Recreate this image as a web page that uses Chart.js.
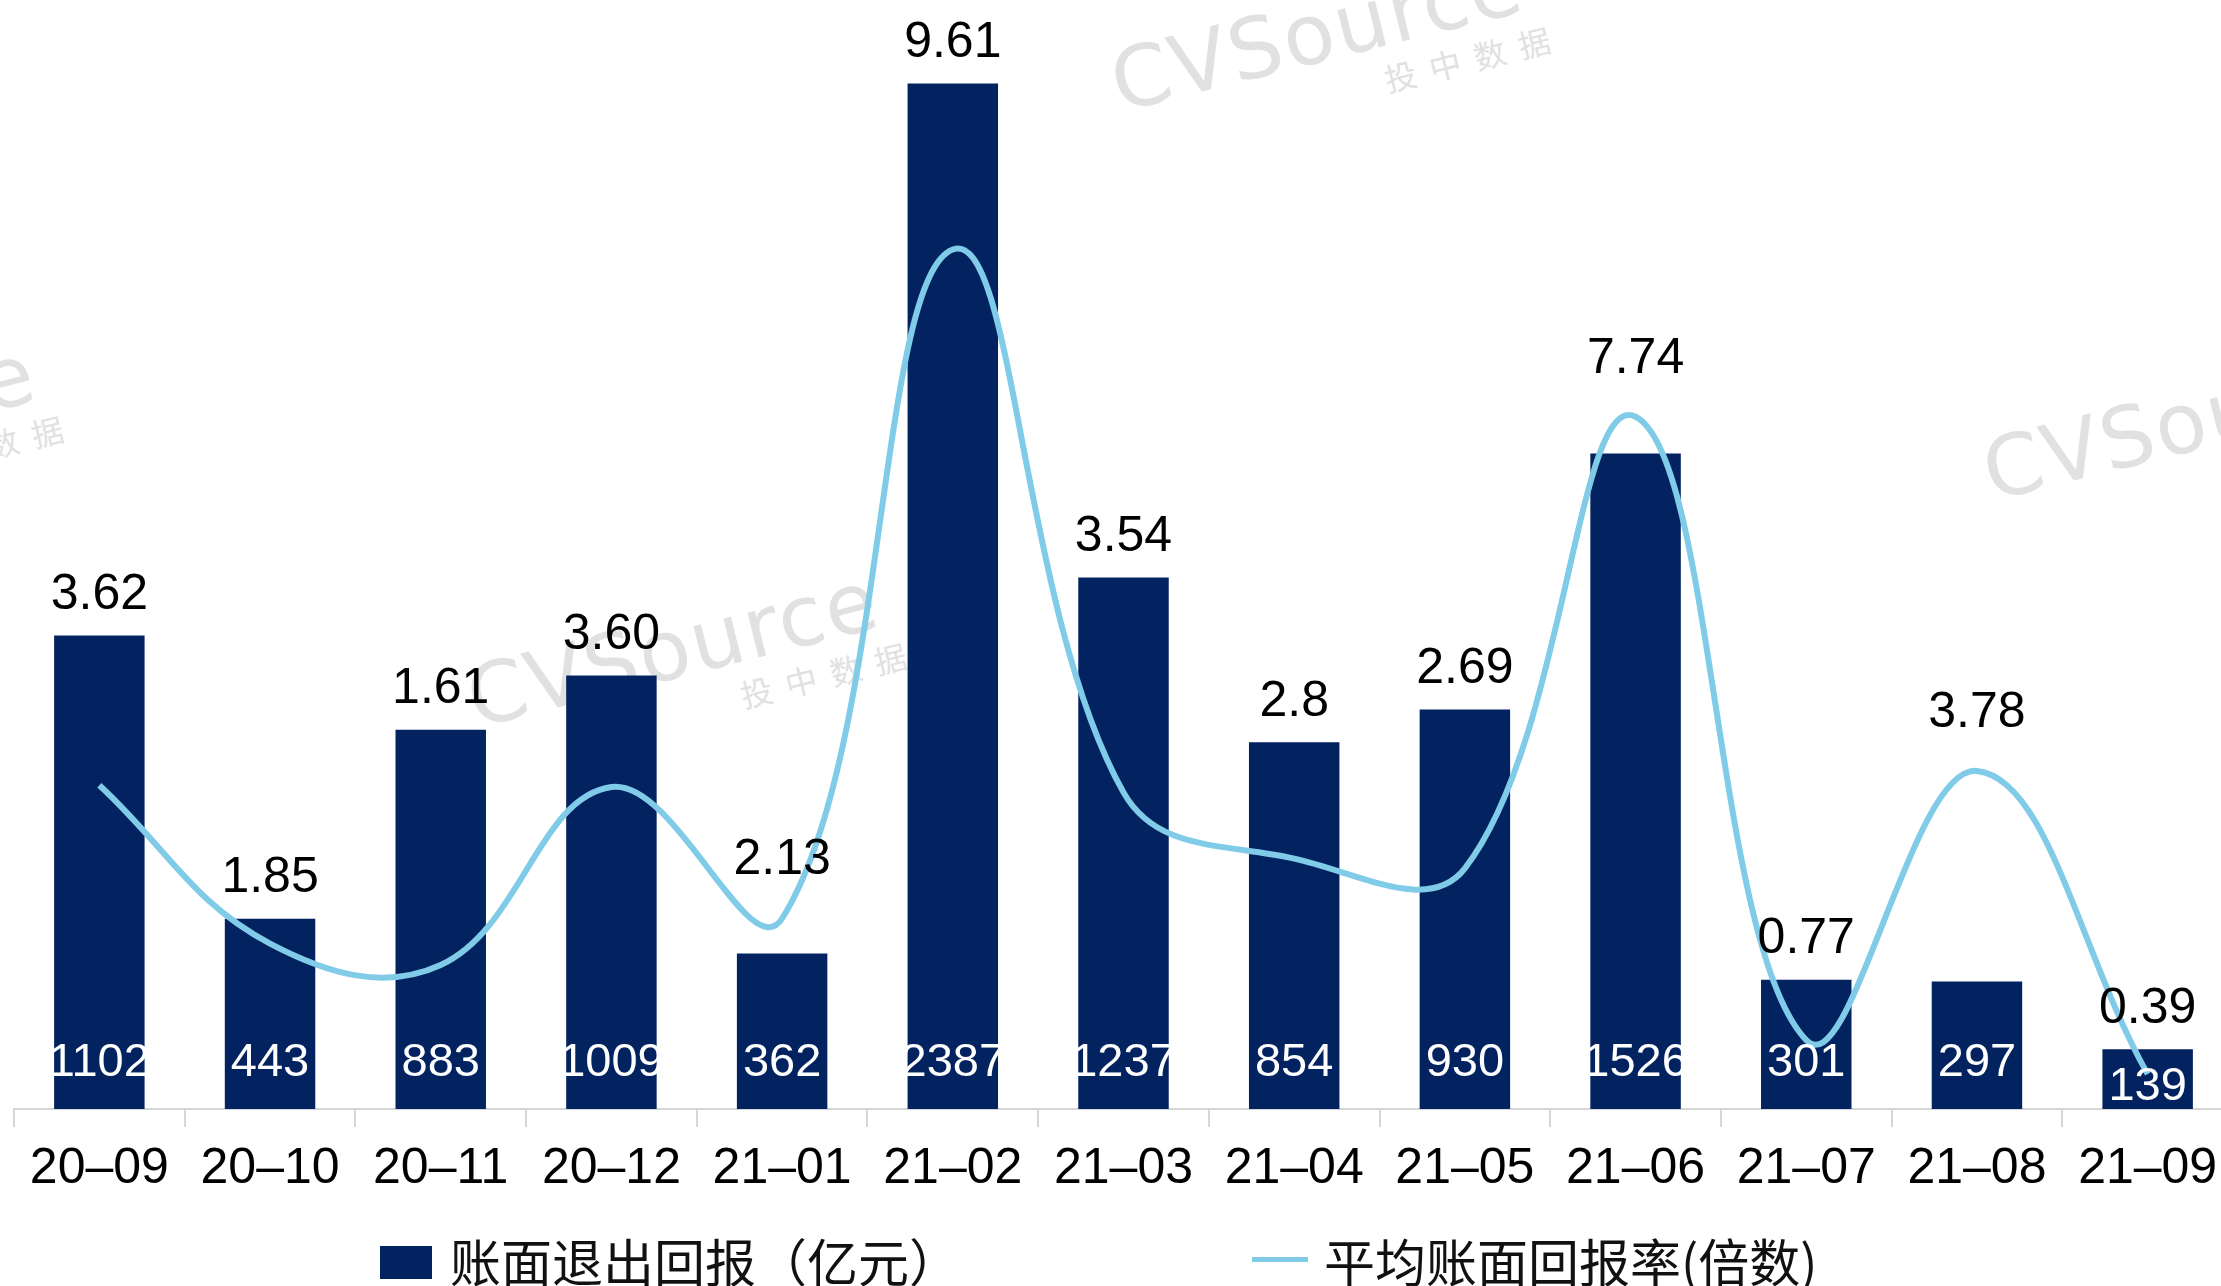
<!DOCTYPE html>
<html>
<head>
<meta charset="utf-8">
<script src="https://cdn.jsdelivr.net/npm/chart.js@4/dist/chart.umd.min.js"></script>
<style>
  html, body { margin: 0; padding: 0; background: #ffffff; overflow: hidden; width: 2221px; height: 1286px; }
  #wrap { position: absolute; left: 0; top: 0; width: 2233px; height: 1286px; }
  canvas { position: absolute; left: 0; top: 0; z-index: 2; }
  .wm { position: absolute; z-index: 1; width: 440px; height: 130px; transform: rotate(-14deg); transform-origin: 50% 50%; color: #e1e1e1; }
  .wm .en { position: absolute; left: 0; top: 0; font-family: "DejaVu Sans", sans-serif; font-weight: 400; font-size: 84px; letter-spacing: 2px; line-height: 90px; white-space: nowrap; }
  .wm .cn { position: absolute; left: 265px; top: 88px; font-family: "Noto Sans CJK SC", sans-serif; font-weight: 400; font-size: 32px; letter-spacing: 14px; line-height: 36px; white-space: nowrap; }
  .legend { position: absolute; z-index: 3; font-family: "Noto Sans CJK SC", sans-serif; font-size: 51px; color: #111; line-height: 60px; white-space: nowrap; }
</style>
</head>
<body>
<div id="wrap">
  <div class="wm" style="left:1111px; top:-15px;"><span class="en">CVSource</span><span class="cn">投中数据</span></div>
  <div class="wm" style="left:467px; top:601px;"><span class="en">CVSource</span><span class="cn">投中数据</span></div>
  <div class="wm" style="left:1983px; top:374px;"><span class="en">CVSource</span><span class="cn">投中数据</span></div>
  <div class="wm" style="left:-376px; top:374px;"><span class="en">CVSource</span><span class="cn">投中数据</span></div>
  <canvas id="c" width="2233" height="1286"></canvas>
  <div class="legend" style="left:380px; top:1246px; width:52px; height:33px; background:#022260;"></div>
  <div class="legend" style="left:450px; top:1230px;">账面退出回报（亿元）</div>
  <div class="legend" style="left:1252px; top:1257px; width:56px; height:5px; background:#7fcbe8;"></div>
  <div class="legend" style="left:1324px; top:1230px;">平均账面回报率(倍数)</div>
</div>
<script>
const categories = ["20–09","20–10","20–11","20–12","21–01","21–02","21–03","21–04","21–05","21–06","21–07","21–08","21–09"];
const exitReturns = [1102, 443, 883, 1009, 362, 2387, 1237, 854, 930, 1526, 301, 297, 139];
const avgReturnRate = [3.62, 1.85, 1.61, 3.60, 2.13, 9.61, 3.54, 2.8, 2.69, 7.74, 0.77, 3.78, 0.39];
const rateLabels = ["3.62","1.85","1.61","3.60","2.13","9.61","3.54","2.8","2.69","7.74","0.77","3.78","0.39"];

const BAR_COLOR = "#022260";
const LINE_COLOR = "#7fcbe8";
const NUM_FONT = '"Liberation Sans", Arial, sans-serif';

const labelPlugin = {
  id: "valueLabels",
  afterDatasetsDraw(chart) {
    const ctx = chart.ctx;
    const barMeta = chart.getDatasetMeta(1);
    const lineMeta = chart.getDatasetMeta(0);
    ctx.save();
    ctx.textAlign = "center";
    ctx.textBaseline = "middle";
    barMeta.data.forEach((bar, i) => {
      const base = bar.base;
      const top = bar.y;
      ctx.font = "47px " + NUM_FONT;
      ctx.fillStyle = "#ffffff";
      const yIn = Math.max(base - 46, top + 38);
      ctx.fillText(String(exitReturns[i]), bar.x, yIn);
      const pt = lineMeta.data[i];
      const yOut = Math.min(top - 40, pt.y - 58);
      ctx.font = "50px " + NUM_FONT;
      ctx.fillStyle = "#000000";
      ctx.fillText(rateLabels[i], bar.x, yOut);
    });
    ctx.restore();
  }
};

new Chart(document.getElementById("c"), {
  data: {
    labels: categories,
    datasets: [
      {
        type: "line",
        label: "平均账面回报率(倍数)",
        data: avgReturnRate,
        yAxisID: "yRate",
        borderColor: LINE_COLOR,
        borderWidth: 6,
        pointRadius: 0,
        tension: 0.4,
        fill: false,
        order: 0
      },
      {
        type: "bar",
        label: "账面退出回报（亿元）",
        data: exitReturns,
        yAxisID: "yAmt",
        backgroundColor: BAR_COLOR,
        barPercentage: 0.53,
        categoryPercentage: 1.0,
        order: 1
      }
    ]
  },
  options: {
    responsive: false,
    animation: false,
    events: [],
    layout: { padding: { left: 14, right: 0, top: 0, bottom: 0 } },
    plugins: { legend: { display: false }, tooltip: { enabled: false } },
    scales: {
      x: {
        offset: true,
        grid: { offset: true, drawOnChartArea: false, drawTicks: true, tickLength: 18, color: "#d6d6d6", lineWidth: 2 },
        border: { display: true, color: "#d6d6d6", width: 2 },
        ticks: { color: "#000000", font: { family: NUM_FONT, size: 50 }, padding: 12, maxRotation: 0, autoSkip: false },
        afterFit(scale) { scale.height = 177; }
      },
      yAmt: { display: false, min: 0, max: 2581.6 },
      yRate: { display: false, min: 0, max: 12.40 }
    }
  },
  plugins: [labelPlugin]
});
</script>
</body>
</html>
